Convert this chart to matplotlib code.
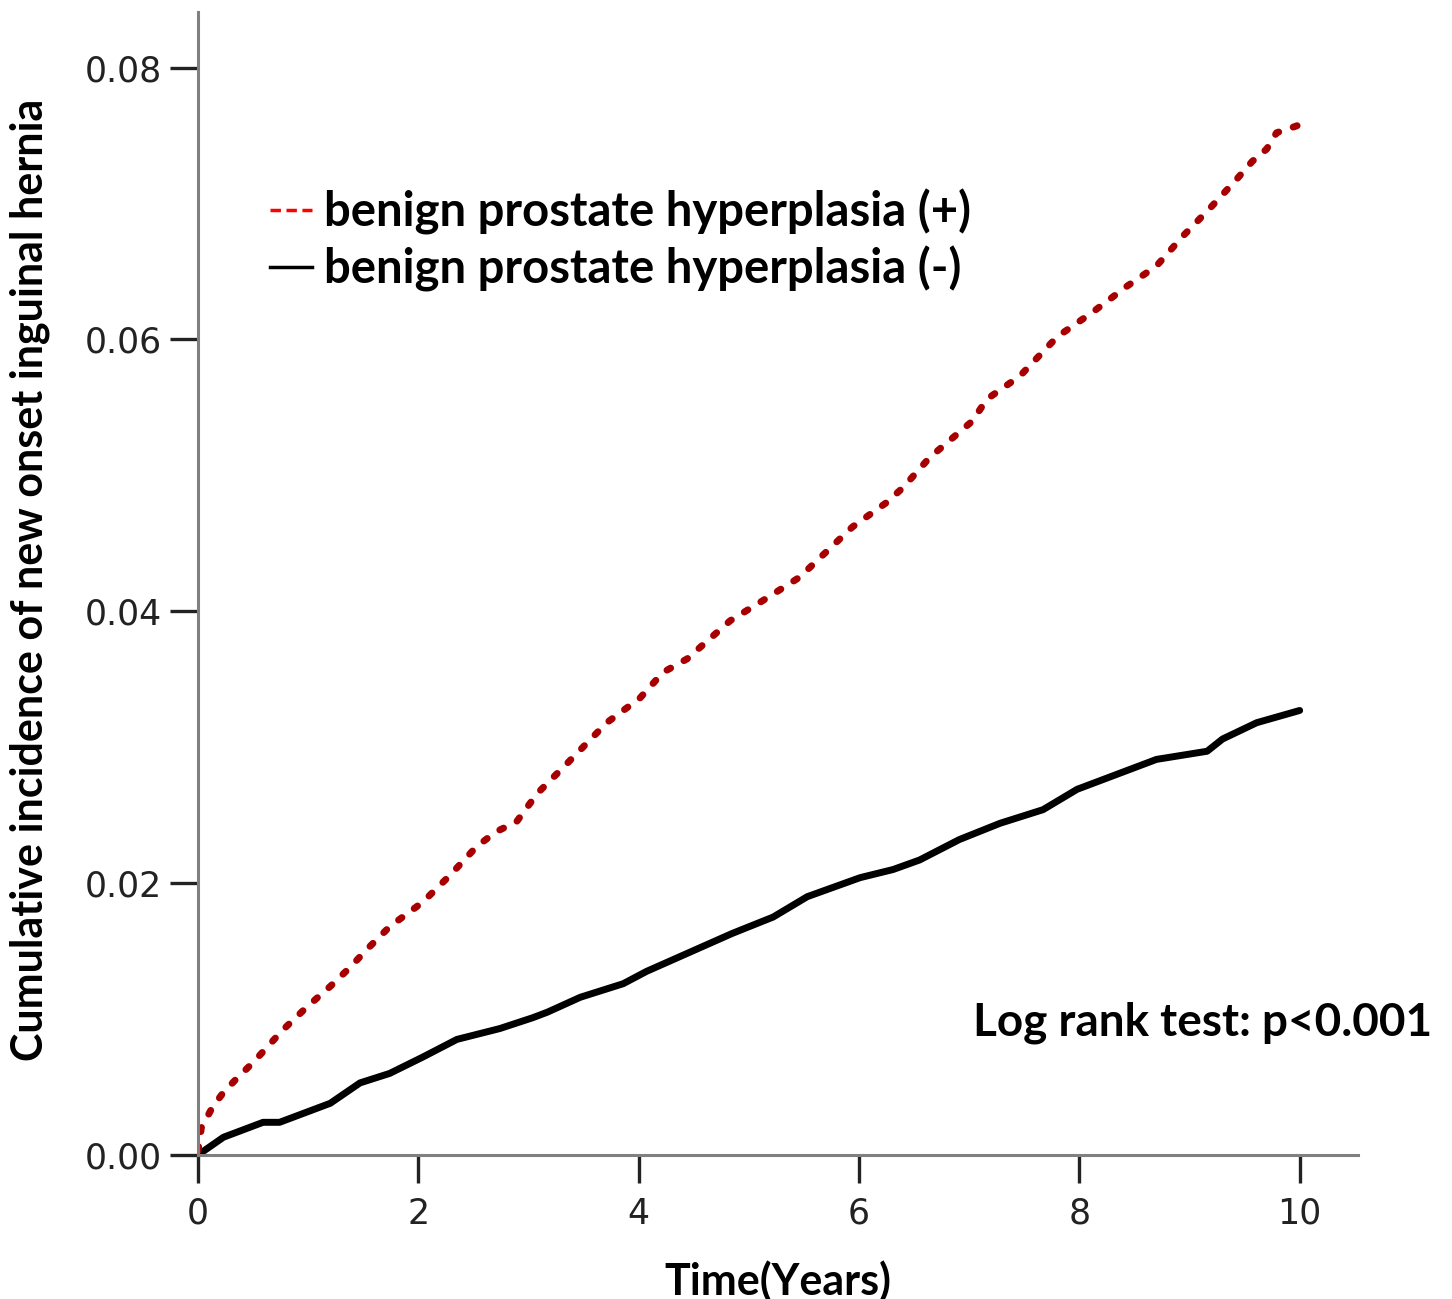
import numpy as np
import matplotlib.pyplot as plt
from matplotlib.lines import Line2D

# Cumulative incidence
years_bph = [0, 0.03, 0.13, 0.23, 0.36, 0.5, 0.77, 0.99, 1.2, 1.38, 1.53,
             1.74, 2.04, 2.29, 2.53, 2.71, 2.89, 3.08, 3.35, 3.71, 4.01, 4.22,
             4.44, 4.83, 5.13, 5.46, 5.94, 6.25, 6.4, 6.64, 7.03, 7.16, 7.46,
             7.8, 8.12, 8.43, 8.7, 8.94, 9.18, 9.43, 9.57, 9.7, 9.79, 9.97, 10.0]
inc_bph = [0.0003, 0.0020, 0.0035, 0.0046, 0.0057, 0.0068, 0.0092, 0.0109,
           0.0124, 0.0138, 0.0151, 0.0168, 0.0186, 0.0206, 0.0227, 0.0238,
           0.0245, 0.0266, 0.0288, 0.0318, 0.0336, 0.0355, 0.0365, 0.0393,
           0.0408, 0.0425, 0.0462, 0.0480, 0.0491, 0.0513, 0.0540, 0.0556,
           0.0573, 0.0602, 0.0620, 0.0639, 0.0654, 0.0676, 0.0696, 0.0718,
           0.0731, 0.0740, 0.0752, 0.0757, 0.0758]

years_ctrl = [0, 0.23, 0.59, 0.74, 1.2, 1.47, 1.74, 2.04, 2.35, 2.74, 3.04,
              3.17, 3.47, 3.86, 4.07, 4.46, 4.85, 5.22, 5.53, 6.01, 6.31, 6.55,
              6.91, 7.28, 7.67, 7.98, 8.34, 8.7, 9.16, 9.3, 9.61, 10.0]
inc_ctrl = [0.0, 0.0013, 0.0024, 0.0024, 0.0038, 0.0053, 0.0060, 0.0072,
            0.0085, 0.0093, 0.0101, 0.0105, 0.0116, 0.0126, 0.0135, 0.0149,
            0.0163, 0.0175, 0.0190, 0.0204, 0.0210, 0.0217, 0.0232, 0.0244,
            0.0254, 0.0269, 0.0280, 0.0291, 0.0297, 0.0306, 0.0318, 0.0327]

x_ticks = [0, 2, 4, 6, 8, 10]
y_ticks = [0.00, 0.02, 0.04, 0.06, 0.08]
labels = ["benign prostate hyperplasia (+)", "benign prostate hyperplasia (-)"]

plt.rcParams["font.family"] = "DejaVu Sans"
bold_font = "Lato"

fig = plt.figure(figsize=(14.52, 12.99), dpi=100)
ax = fig.add_axes([0.1364, 0.1109, 0.7989, 0.8800])

ax.plot(years_ctrl, inc_ctrl, color="black", lw=5, solid_capstyle="round",
        solid_joinstyle="round")
ax.plot(years_bph, inc_bph, color="#a80000", lw=5,
        linestyle=(0, (0.6, 2.2)), dash_capstyle="round")

ax.set_xlim(0, 10.53)
ax.set_ylim(0, 0.0841)
ax.set_xticks(x_ticks)
ax.set_yticks(y_ticks)
ax.set_xticklabels([str(t) for t in x_ticks])
ax.set_yticklabels([f"{t:.2f}" for t in y_ticks])

for side in ["top", "right"]:
    ax.spines[side].set_visible(False)
for side in ["left", "bottom"]:
    ax.spines[side].set_color("#808080")
    ax.spines[side].set_linewidth(2.2)

ax.tick_params(direction="out", length=20, width=2.4, color="#222222",
               labelsize=25, labelcolor="#222222", pad=6)
ax.tick_params(axis="x", pad=10)

ax.set_xlabel("Time(Years)", fontsize=31, fontweight="bold",
              fontfamily=bold_font)
ax.xaxis.set_label_coords(0.5, -0.092)
ax.set_ylabel("Cumulative incidence of new onset inguinal hernia",
              fontsize=31, fontweight="bold", fontfamily=bold_font)
ax.yaxis.set_label_coords(-0.128, 0.503)

handles = [Line2D([], [], color="red", lw=2.5, linestyle=(0, (3.0, 1.6))),
           Line2D([], [], color="black", lw=2.5)]
leg = ax.legend(handles, labels, loc="upper left", bbox_to_anchor=(0.062, 0.845),
                frameon=False, handlelength=0.9, handletextpad=0.25,
                labelspacing=0.22, borderpad=0, borderaxespad=0,
                prop={"family": bold_font, "weight": "bold", "size": 34})

fig.text(0.986, 0.213, "Log rank test: p<0.001", ha="right", va="center",
         fontsize=33, fontweight="bold", fontfamily=bold_font)

fig.savefig("out.png", dpi=100)
